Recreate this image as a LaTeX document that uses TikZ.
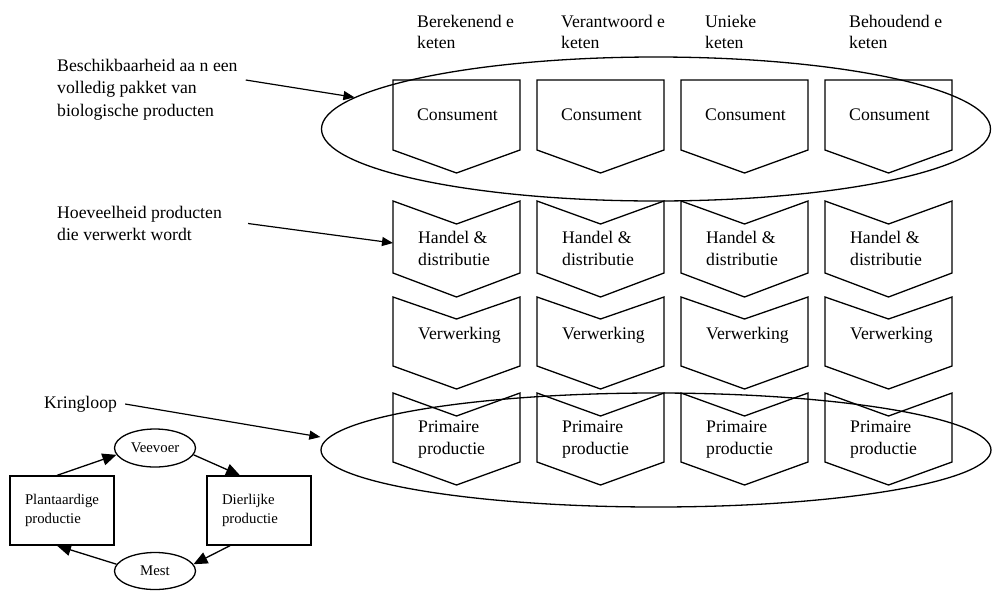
\documentclass[tikz,border=0pt]{standalone}
\usepackage{fontspec}
\setmainfont{Liberation Serif}
\usetikzlibrary{arrows.meta,shapes.geometric,calc}
\begin{document}
\begin{tikzpicture}[x=1pt,y=-1pt,line join=miter,
  lbl/.style={font=\fontsize{17.7}{22}\selectfont,align=left,inner sep=0pt,anchor=west},
  hdr/.style={font=\fontsize{17.7}{21}\selectfont,align=left,inner sep=0pt,anchor=west},
  small/.style={font=\fontsize{14.8}{19}\selectfont,align=left,inner sep=0pt},
  shp/.style={draw=black,line width=1.3pt},
  ell/.style={draw=black,line width=1.3pt,ellipse,inner sep=0pt},
  arr/.style={-{Triangle[length=11pt,width=9pt]},line width=1.2pt},
  larr/.style={-{Triangle[length=14pt,width=12pt]},line width=1.3pt}]
\useasboundingbox (0,0) rectangle (992,590);

% columns
\foreach \i/\x/\hA/\hB in {1/393/Berekenend e/keten,2/537/Verantwoord e/keten,3/681/Unieke/keten,4/825/Behoudend e/keten}{
  \node[hdr] (k\i) at (\x+24,31.5) {\hA\\\hB};
  % consument
  \draw[shp] (\x,80) -- (\x+127,80) -- (\x+127,150) -- (\x+63.5,173) -- (\x,150) -- cycle;
  \node[lbl,anchor=center] (c\i) at (\x+64.5,115) {Consument};
  % handel
  \draw[shp] (\x,201) -- (\x+63.5,224) -- (\x+127,201) -- (\x+127,273) -- (\x+63.5,297) -- (\x,273) -- cycle;
  \node[lbl] (h\i) at (\x+25,248) {Handel \&\\distributie};
  % verwerking
  \draw[shp] (\x,297) -- (\x+63.5,319) -- (\x+127,297) -- (\x+127,366) -- (\x+63.5,389) -- (\x,366) -- cycle;
  \node[lbl] (v\i) at (\x+25,335) {Verwerking};
  % primaire
  \draw[shp] (\x,393) -- (\x+63.5,416) -- (\x+127,393) -- (\x+127,462) -- (\x+63.5,485) -- (\x,462) -- cycle;
  \node[lbl] (p\i) at (\x+25,440) {Primaire\\productie};
}

% ellipses
\node[ell,minimum width=669,minimum height=144] (topell) at (656,129) {};
\node[ell,minimum width=670,minimum height=114] (botell) at (656,450) {};

% left labels
\node[lbl,font=\fontsize{17.7}{22.5}\selectfont] (besch) at (57,89.5) {Beschikbaarheid aa n een\\volledig pakket van\\biologische producten};
\node[lbl] (hoev) at (57,223.5) {Hoeveelheid producten\\die verwerkt wordt};
\node[lbl] (kring) at (44,404) {Kringloop};

\draw[arr] ([xshift=8pt,yshift=9.5pt]besch.east) -- (topell.174.6);
\draw[arr] ([xshift=26pt]hoev.east) -- ([xshift=-25pt,yshift=5pt]h1.west);
\draw[arr] ([xshift=8pt]kring.east) -- ([yshift=13pt]botell.west);

% kringloop
\node[ell,small,minimum width=81,minimum height=38] (vee) at (155,448) {Veevoer};
\node[ell,small,minimum width=81,minimum height=37] (mest) at (155,571) {Mest};
\node[shp,small,text width=74pt,minimum width=104,minimum height=69] (plant) at (62,510.5) {Plantaardige\\productie};
\node[shp,small,text width=74pt,minimum width=104,minimum height=69] (dier) at (259,510.5) {Dierlijke\\productie};

\draw[larr] ([xshift=-5pt]plant.north) -- (vee.190);
\draw[larr] (vee.-10) -- ([xshift=-19pt]dier.north);
\draw[larr] ([xshift=-29pt]dier.south) -- (mest.10);
\draw[larr] (mest.170) -- ([xshift=-5pt]plant.south);
\end{tikzpicture}
\end{document}
